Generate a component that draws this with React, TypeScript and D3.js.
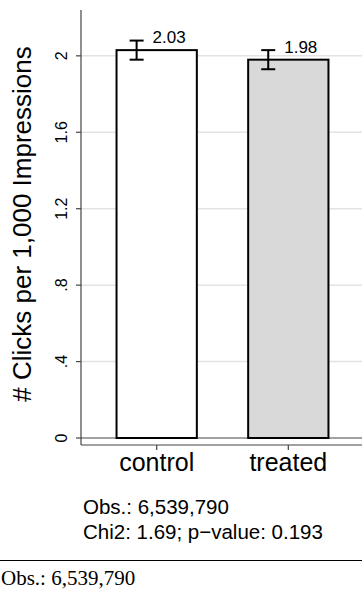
import React, { useEffect, useRef } from 'react'
import * as d3 from 'd3'

// chart data
const categories = ['control', 'treated']
const means = [2.03, 1.98]
const ciLow = [1.98, 1.93]
const ciHigh = [2.08, 2.03]
const barFills = ['#ffffff', '#d9d9d9']
const yTicks = [0, 0.4, 0.8, 1.2, 1.6, 2]
const yTickLabels = ['0', '.4', '.8', '1.2', '1.6', '2']
const yTitle = '# Clicks per 1,000 Impressions'
const notes = ['Obs.: 6,539,790', 'Chi2: 1.69; p\u2212value: 0.193']
const footer = 'Obs.: 6,539,790'

const WIDTH = 362
const HEIGHT = 591
const SANS = '"Liberation Sans", Arial, Helvetica, sans-serif'
const SERIF = '"Liberation Serif", "Times New Roman", Times, serif'

const App: React.FC = () => {
  const svgRef = useRef<SVGSVGElement>(null)

  useEffect(() => {
    if (!svgRef.current) return
    const svg = d3.select(svgRef.current)
    svg.selectAll('*').remove()

    const axisX = 81
    const axisBottom = 445
    const plotTop = 10

    const x = d3
      .scaleBand<string>()
      .domain(categories)
      .range([axisX, 364])
      .paddingInner(0.39)
      .paddingOuter(0.27)

    const y = d3.scaleLinear().domain([0, 2.24]).range([438, plotTop])

    // gridlines
    svg
      .append('g')
      .selectAll('line')
      .data(yTicks.filter(t => t > 0))
      .enter()
      .append('line')
      .attr('x1', axisX)
      .attr('x2', WIDTH)
      .attr('y1', d => y(d))
      .attr('y2', d => y(d))
      .attr('stroke', '#e3e3e3')
      .attr('stroke-width', 1.5)

    // zero line
    svg
      .append('line')
      .attr('x1', axisX)
      .attr('x2', WIDTH)
      .attr('y1', y(0))
      .attr('y2', y(0))
      .attr('stroke', '#444')
      .attr('stroke-width', 1.2)

    // bars
    svg
      .append('g')
      .selectAll('rect')
      .data(categories)
      .enter()
      .append('rect')
      .attr('x', d => x(d)!)
      .attr('y', (_d, i) => y(means[i]))
      .attr('width', x.bandwidth())
      .attr('height', (_d, i) => y(0) - y(means[i]))
      .attr('fill', (_d, i) => barFills[i])
      .attr('stroke', '#000')
      .attr('stroke-width', 2)

    // error bars, drawn a quarter band in from the bar's left edge
    const capHalf = 7
    const err = svg.append('g').attr('stroke', '#000').attr('stroke-width', 2)
    categories.forEach((c, i) => {
      const ex = x(c)! + x.bandwidth() / 4
      err.append('line').attr('x1', ex).attr('x2', ex).attr('y1', y(ciLow[i])).attr('y2', y(ciHigh[i]))
      err.append('line').attr('x1', ex - capHalf).attr('x2', ex + capHalf).attr('y1', y(ciLow[i])).attr('y2', y(ciLow[i]))
      err.append('line').attr('x1', ex - capHalf).attr('x2', ex + capHalf).attr('y1', y(ciHigh[i])).attr('y2', y(ciHigh[i]))
      svg
        .append('text')
        .attr('x', ex + 16)
        .attr('y', y(ciHigh[i]) + 2.5)
        .style('font-family', SANS)
        .style('font-size', '17px')
        .style('fill', '#000')
        .text(means[i].toFixed(2))
    })

    // y axis
    svg
      .append('line')
      .attr('x1', axisX)
      .attr('x2', axisX)
      .attr('y1', plotTop)
      .attr('y2', axisBottom)
      .attr('stroke', '#444')
      .attr('stroke-width', 1.2)

    const yAxis = svg.append('g')
    yTicks.forEach((t, i) => {
      yAxis
        .append('line')
        .attr('x1', axisX - 5)
        .attr('x2', axisX)
        .attr('y1', y(t))
        .attr('y2', y(t))
        .attr('stroke', '#444')
        .attr('stroke-width', 1.2)
      yAxis
        .append('text')
        .attr('transform', `translate(67, ${y(t)}) rotate(-90)`)
        .attr('text-anchor', 'middle')
        .style('font-family', SANS)
        .style('font-size', '16px')
        .style('fill', '#000')
        .text(yTickLabels[i])
    })

    svg
      .append('text')
      .attr('transform', `translate(31, 224) rotate(-90)`)
      .attr('text-anchor', 'middle')
      .style('font-family', SANS)
      .style('font-size', '26px')
      .style('fill', '#000')
      .text(yTitle)

    // x axis
    svg
      .append('line')
      .attr('x1', axisX)
      .attr('x2', WIDTH)
      .attr('y1', axisBottom)
      .attr('y2', axisBottom)
      .attr('stroke', '#444')
      .attr('stroke-width', 1.2)

    const xAxis = svg.append('g')
    categories.forEach(c => {
      const cx = x(c)! + x.bandwidth() / 2
      xAxis
        .append('line')
        .attr('x1', cx)
        .attr('x2', cx)
        .attr('y1', axisBottom)
        .attr('y2', axisBottom + 5)
        .attr('stroke', '#444')
        .attr('stroke-width', 1.2)
      xAxis
        .append('text')
        .attr('x', cx)
        .attr('y', 471)
        .attr('text-anchor', 'middle')
        .style('font-family', SANS)
        .style('font-size', '25px')
        .style('fill', '#000')
        .text(c)
    })

    // notes under the chart
    notes.forEach((n, i) => {
      svg
        .append('text')
        .attr('x', 83)
        .attr('y', 514 + i * 25)
        .style('font-family', SANS)
        .style('font-size', '20.5px')
        .style('fill', '#000')
        .text(n)
    })

    svg
      .append('line')
      .attr('x1', 0)
      .attr('x2', WIDTH)
      .attr('y1', 560.5)
      .attr('y2', 560.5)
      .attr('stroke', '#000')
      .attr('stroke-width', 1)

    svg
      .append('text')
      .attr('x', 1)
      .attr('y', 585)
      .style('font-family', SERIF)
      .style('font-size', '21px')
      .style('fill', '#000')
      .text(footer)
  }, [])

  return (
    <svg
      ref={svgRef}
      width={WIDTH}
      height={HEIGHT}
      style={{ position: 'absolute', left: 0, top: 0, background: '#fff' }}
    />
  )
}

export default App
